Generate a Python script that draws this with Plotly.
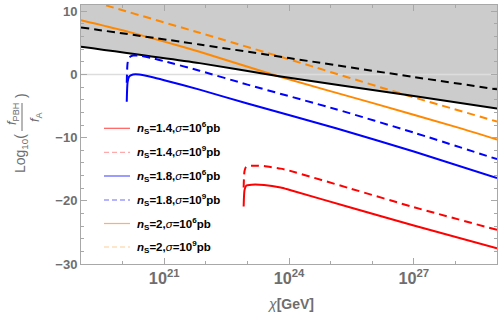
import plotly.graph_objects as go

# ---------------- data (x as log10(chi/GeV), y as log10(fPBH/fA)) ----------------
black_solid_logx = [19.0, 21.85, 23.72, 26.8, 29.0]
black_solid_y = [4.4, 1.8, -0.25, -3.2, -5.4]

black_dashed_logx = [19.0, 21.85, 24.0, 27.0, 29.0]
black_dashed_y = [7.45, 4.75, 2.6, -0.4, -2.35]

orange_solid_logx = [19.0, 20.0, 21.0, 21.85, 23.72, 26.0, 28.09, 29.0]
orange_solid_y = [8.6, 7.0, 5.2, 3.6, -0.25, -4.5, -8.45, -10.3]

orange_dashed_logx = [19.0, 19.62, 21.85, 24.0, 26.81, 29.0]
orange_dashed_y = [12.1, 10.9, 6.6, 2.4, -3.25, -7.45]

blue_solid_logx = [20.10, 20.12, 20.16, 20.25, 20.4, 20.7, 21.0, 21.85, 23.0, 25.13, 27.0, 29.0]
blue_solid_y = [-4.3, -1.2, -0.3, 0.0, 0.0, -0.4, -0.9, -2.4, -4.6, -8.5, -12.2, -16.4]

blue_dashed_logx = [20.10, 20.12, 20.16, 20.25, 20.4, 20.7, 21.0, 21.85, 23.0, 25.13, 27.0, 29.0]
blue_dashed_y = [-1.3, 1.8, 2.7, 3.0, 3.0, 2.6, 2.1, 0.6, -1.6, -5.5, -9.2, -13.4]

red_solid_logx = [22.91, 22.93, 22.97, 23.1, 23.4, 23.8, 24.0, 25.5, 27.0, 29.0]
red_solid_y = [-20.9, -18.3, -17.6, -17.45, -17.5, -17.9, -18.25, -21.1, -23.9, -27.5]

red_dashed_logx = [22.91, 22.93, 22.97, 23.1, 23.4, 23.8, 24.0, 25.5, 27.0, 29.0]
red_dashed_y = [-17.9, -15.3, -14.6, -14.45, -14.5, -14.9, -15.2, -18.1, -21.0, -24.6]

legend_labels = [
    "<b><i>n</i><sub>S</sub>=1.4,</b><i>σ</i><b>=10<sup>6</sup>pb</b>",
    "<b><i>n</i><sub>S</sub>=1.4,</b><i>σ</i><b>=10<sup>9</sup>pb</b>",
    "<b><i>n</i><sub>S</sub>=1.8,</b><i>σ</i><b>=10<sup>6</sup>pb</b>",
    "<b><i>n</i><sub>S</sub>=1.8,</b><i>σ</i><b>=10<sup>9</sup>pb</b>",
    "<b><i>n</i><sub>S</sub>=2,</b><i>σ</i><b>=10<sup>6</sup>pb</b>",
    "<b><i>n</i><sub>S</sub>=2,</b><i>σ</i><b>=10<sup>9</sup>pb</b>",
]

x_range_log = [19, 29]
y_range = [-30, 11]


def chi(logx):
    return [10.0 ** v for v in logx]


# ---------------- layout geometry helpers ----------------
W, H = 500, 316
L, R, T, B = 81, 3, 5, 52
PW, PH = W - L - R, H - T - B


def px(x):
    return (x - L) / PW


def py(y):
    return (H - B - y) / PH


fig = go.Figure()

# gray excluded region above black solid line
fig.add_trace(go.Scatter(x=chi(black_solid_logx), y=[13] * len(black_solid_logx),
                         mode="lines", line=dict(width=0), showlegend=False, hoverinfo="skip"))
fig.add_trace(go.Scatter(x=chi(black_solid_logx), y=black_solid_y, mode="lines",
                         line=dict(width=0), fill="tonexty", fillcolor="#cccccc",
                         showlegend=False, hoverinfo="skip"))
# zero line
fig.add_trace(go.Scatter(x=chi(x_range_log), y=[0, 0], mode="lines",
                         line=dict(color="#dddddd", width=1.5), showlegend=False, hoverinfo="skip"))

dash = "8px,5px"
curves = [
    (orange_solid_logx, orange_solid_y, "#ff8800", "solid"),
    (orange_dashed_logx, orange_dashed_y, "#ff8800", dash),
    (black_solid_logx, black_solid_y, "#000000", "solid"),
    (black_dashed_logx, black_dashed_y, "#000000", dash),
    (blue_solid_logx, blue_solid_y, "#0000ff", "solid"),
    (blue_dashed_logx, blue_dashed_y, "#0000ff", dash),
    (red_solid_logx, red_solid_y, "#ff0000", "solid"),
    (red_dashed_logx, red_dashed_y, "#ff0000", dash),
]
for lx, yy, c, d in curves:
    fig.add_trace(go.Scatter(x=chi(lx), y=yy, mode="lines",
                             line=dict(color=c, width=2, dash=d, shape="spline", smoothing=0.6),
                             showlegend=False))

axis_common = dict(
    showgrid=False, zeroline=False, showline=True, linecolor="#a8a8a8", linewidth=1,
    mirror="ticks", ticks="inside", tickcolor="#a8a8a8", ticklen=6, automargin=False,
    tickfont=dict(family="Liberation Sans, Arial", size=13, color="#6e6e6e", weight="bold"),
)

fig.update_layout(
    width=W, height=H, margin=dict(l=L, r=R, t=T, b=B, autoexpand=False),
    plot_bgcolor="white", paper_bgcolor="white", showlegend=False,
    xaxis=dict(type="log", range=x_range_log, tick0=21, dtick=3, exponentformat="power",
               showexponent="all",
               minor=dict(ticks="inside", dtick=1, ticklen=3, tickcolor="#a8a8a8"),
               **axis_common),
    yaxis=dict(range=y_range, tick0=0, dtick=10,
               minor=dict(ticks="inside", dtick=2, ticklen=3, tickcolor="#a8a8a8"),
               **axis_common),
)

# x-axis title
fig.add_annotation(x=px(290), y=py(304), xref="paper", yref="paper", showarrow=False,
                   xanchor="center", yanchor="middle",
                   text="<i>χ</i><b>[GeV]</b>",
                   font=dict(family="Liberation Sans, Arial", size=14, color="#6e6e6e"))

# y-axis title built as Log10( fraction )
lab_font = dict(family="Liberation Sans, Arial", size=14, color="#6e6e6e")
small_font = dict(family="Liberation Sans, Arial", size=13, color="#6e6e6e")
fig.add_annotation(x=px(21), y=py(154), xref="paper", yref="paper", showarrow=False,
                   xanchor="center", yanchor="middle",
                   textangle=-90, text="Log<sub>10</sub>(", font=lab_font)
fig.add_annotation(x=px(12), y=py(114), xref="paper", yref="paper", showarrow=False,
                   xanchor="center", yanchor="middle",
                   textangle=-90, text="<i>f</i><sub>PBH</sub>", font=small_font)
fig.add_annotation(x=px(35), y=py(117), xref="paper", yref="paper", showarrow=False,
                   xanchor="center", yanchor="middle",
                   textangle=-90, text="<i>f</i><sub>A</sub>", font=small_font)
fig.add_annotation(x=px(21), y=py(96), xref="paper", yref="paper", showarrow=False,
                   xanchor="center", yanchor="middle",
                   textangle=-90, text=")", font=lab_font)
fig.add_shape(type="line", xref="paper", yref="paper", x0=px(22), x1=px(22),
              y0=py(103), y1=py(131), line=dict(color="#6e6e6e", width=1))

# manual legend
leg_y = [128.3, 152.3, 176.0, 200.0, 223.5, 247.0]
leg_colors = ["#ff5a5a", "#ffaaaa", "#5a5aff", "#6a6aff", "#ffb060", "#ffcc99"]
leg_dash = ["solid", "5px,3px", "solid", "5px,3px", "solid", "5px,3px"]
for yv, c, d, t in zip(leg_y, leg_colors, leg_dash, legend_labels):
    fig.add_shape(type="line", xref="paper", yref="paper", x0=px(104), x1=px(130),
                  y0=py(yv), y1=py(yv), line=dict(color=c, width=1.2, dash=d))
    fig.add_annotation(x=px(135), y=py(yv), xref="paper", yref="paper", showarrow=False,
                       xanchor="left", yanchor="middle", text=t,
                       font=dict(family="Liberation Sans, Arial", size=11.5, color="#000000"))

fig.write_html("out.html", config={"displayModeBar": False},
               post_script="document.body.style.margin='0';document.body.style.padding='0';")
